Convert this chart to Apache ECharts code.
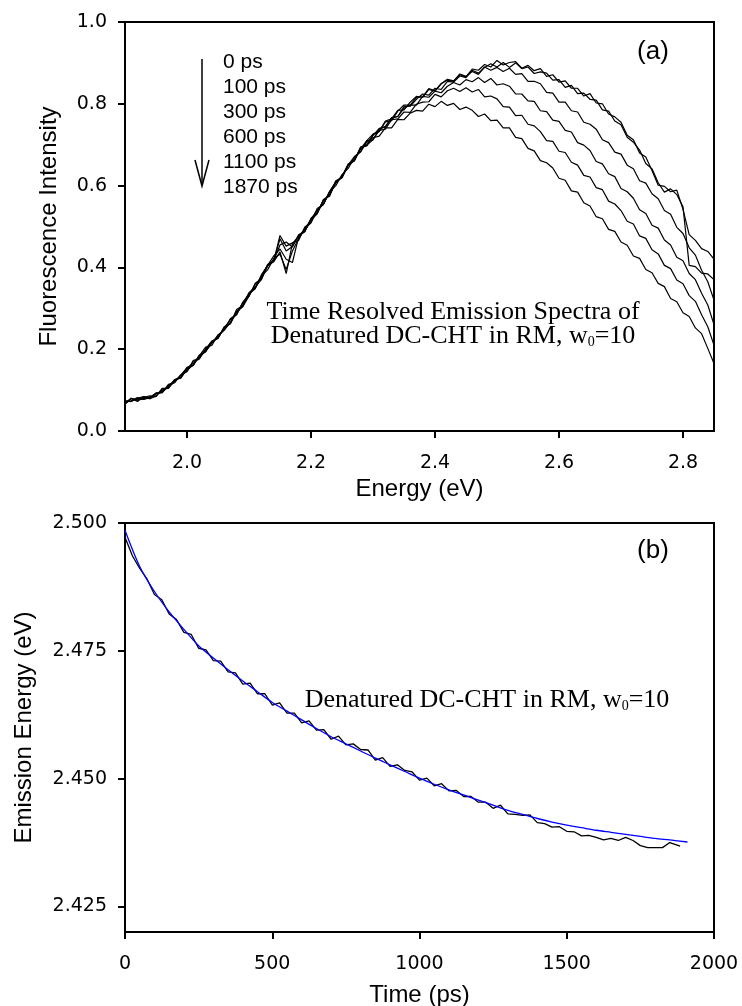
<!DOCTYPE html>
<html><head><meta charset="utf-8">
<script src="https://cdn.jsdelivr.net/npm/echarts@6/dist/echarts.min.js"></script>
<style>html,body{margin:0;padding:0;background:#fff}#c{width:742px;height:1006px}</style>
</head><body><div id="c"></div>
<script>
// ---------- Panel (a): time resolved emission spectra ----------
const energyEv = [1.90,1.91,1.92,1.93,1.94,1.95,1.96,1.97,1.98,1.99,
2.00,2.01,2.02,2.03,2.04,2.05,2.06,2.07,2.08,2.09,
2.10,2.11,2.12,2.13,2.14,2.15,2.16,2.17,2.18,2.19,
2.20,2.21,2.22,2.23,2.24,2.25,2.26,2.27,2.28,2.29,
2.30,2.31,2.32,2.33,2.34,2.35,2.36,2.37,2.38,2.39,
2.40,2.41,2.42,2.43,2.44,2.45,2.46,2.47,2.48,2.49,
2.50,2.51,2.52,2.53,2.54,2.55,2.56,2.57,2.58,2.59,
2.60,2.61,2.62,2.63,2.64,2.65,2.66,2.67,2.68,2.69,
2.70,2.71,2.72,2.73,2.74,2.75,2.76,2.77,2.78,2.79,
2.80,2.81,2.82,2.83,2.84,2.85];

const spec0ps = [0.073,0.074,0.082,0.077,0.082,0.093,0.094,0.114,0.118,0.137,
0.145,0.172,0.178,0.200,0.220,0.226,0.253,0.262,0.297,0.307,
0.337,0.348,0.381,0.405,0.416,0.478,0.452,0.460,0.466,0.499,
0.510,0.544,0.554,0.585,0.610,0.619,0.651,0.662,0.694,0.699,
0.725,0.732,0.758,0.763,0.784,0.785,0.804,0.818,0.816,0.835,
0.831,0.849,0.860,0.856,0.871,0.866,0.885,0.882,0.896,0.890,
0.906,0.895,0.901,0.903,0.887,0.894,0.881,0.886,0.867,0.871,
0.853,0.856,0.838,0.838,0.819,0.825,0.802,0.800,0.775,0.768,
0.755,0.723,0.712,0.680,0.670,0.637,0.601,0.598,0.585,0.589,
0.542,0.480,0.466,0.446,0.439,0.420];

const spec100ps = [0.068,0.080,0.075,0.082,0.086,0.084,0.104,0.105,0.125,0.132,
0.156,0.161,0.184,0.205,0.209,0.235,0.247,0.275,0.285,0.315,
0.329,0.361,0.372,0.407,0.417,0.470,0.440,0.451,0.478,0.487,
0.520,0.533,0.565,0.577,0.608,0.623,0.653,0.661,0.690,0.710,
0.712,0.738,0.745,0.766,0.769,0.793,0.794,0.811,0.824,0.821,
0.838,0.835,0.855,0.853,0.868,0.864,0.882,0.875,0.889,0.898,
0.890,0.901,0.889,0.900,0.886,0.890,0.874,0.878,0.875,0.858,
0.859,0.840,0.845,0.825,0.826,0.811,0.809,0.785,0.782,0.758,
0.749,0.718,0.706,0.687,0.654,0.641,0.607,0.584,0.592,0.578,
0.548,0.405,0.402,0.386,0.384,0.370];

const spec300ps = [0.074,0.072,0.080,0.084,0.079,0.092,0.094,0.110,0.124,0.130,
0.152,0.168,0.176,0.200,0.218,0.228,0.252,0.272,0.284,0.314,
0.336,0.350,0.381,0.404,0.414,0.438,0.385,0.458,0.476,0.488,
0.518,0.540,0.554,0.586,0.608,0.620,0.651,0.671,0.682,0.710,
0.726,0.733,0.756,0.759,0.782,0.797,0.797,0.816,0.817,0.837,
0.832,0.849,0.858,0.855,0.873,0.867,0.879,0.872,0.890,0.882,
0.889,0.879,0.887,0.872,0.874,0.855,0.855,0.849,0.828,0.826,
0.804,0.804,0.783,0.780,0.755,0.750,0.738,0.712,0.705,0.682,
0.677,0.650,0.641,0.612,0.606,0.580,0.568,0.539,0.530,0.498,
0.483,0.448,0.430,0.393,0.365,0.320];

const spec600ps = [0.066,0.079,0.076,0.078,0.083,0.086,0.100,0.106,0.122,0.136,
0.147,0.163,0.184,0.195,0.216,0.234,0.246,0.266,0.292,0.307,
0.338,0.352,0.370,0.405,0.428,0.445,0.420,0.412,0.474,0.495,
0.516,0.531,0.566,0.574,0.612,0.620,0.650,0.661,0.694,0.697,
0.722,0.740,0.743,0.765,0.769,0.789,0.797,0.797,0.818,0.816,
0.831,0.827,0.843,0.852,0.846,0.859,0.854,0.864,0.852,0.862,
0.846,0.849,0.843,0.824,0.824,0.807,0.806,0.783,0.781,0.760,
0.757,0.735,0.731,0.705,0.699,0.686,0.659,0.653,0.629,0.622,
0.593,0.585,0.569,0.541,0.532,0.503,0.496,0.467,0.455,0.425,
0.416,0.385,0.370,0.337,0.308,0.260];

const spec1100ps = [0.071,0.073,0.079,0.079,0.080,0.091,0.097,0.109,0.119,0.137,
0.154,0.160,0.186,0.194,0.219,0.227,0.255,0.263,0.293,0.304,
0.330,0.359,0.373,0.403,0.417,0.455,0.462,0.450,0.480,0.489,
0.517,0.532,0.563,0.577,0.607,0.621,0.650,0.662,0.691,0.699,
0.712,0.735,0.738,0.761,0.763,0.780,0.779,0.799,0.804,0.805,
0.823,0.817,0.832,0.838,0.830,0.839,0.829,0.835,0.817,0.819,
0.812,0.793,0.792,0.771,0.772,0.750,0.746,0.732,0.710,0.708,
0.684,0.681,0.657,0.650,0.625,0.621,0.595,0.590,0.562,0.555,
0.539,0.513,0.506,0.477,0.471,0.443,0.433,0.405,0.397,0.369,
0.360,0.331,0.317,0.284,0.255,0.210];

const spec1870ps = [0.066,0.080,0.072,0.084,0.079,0.085,0.103,0.104,0.126,0.129,
0.151,0.161,0.183,0.194,0.215,0.229,0.251,0.264,0.290,0.305,
0.334,0.349,0.379,0.394,0.422,0.432,0.395,0.440,0.470,0.494,
0.509,0.539,0.555,0.584,0.600,0.627,0.642,0.669,0.683,0.706,
0.717,0.721,0.741,0.741,0.762,0.761,0.777,0.784,0.782,0.799,
0.793,0.806,0.796,0.801,0.786,0.792,0.784,0.769,0.775,0.759,
0.760,0.741,0.741,0.718,0.715,0.691,0.685,0.661,0.656,0.643,
0.618,0.613,0.587,0.584,0.558,0.550,0.524,0.519,0.493,0.488,
0.462,0.454,0.428,0.422,0.395,0.387,0.361,0.353,0.324,0.316,
0.289,0.280,0.252,0.238,0.202,0.165];

const legendLabels = ['0 ps','100 ps','300 ps','600 ps','1100 ps','1870 ps'];
const energyTicks = [2.0, 2.2, 2.4, 2.6, 2.8];
const intensityTicks = [0.0, 0.2, 0.4, 0.6, 0.8, 1.0];

// ---------- Panel (b): emission energy vs time ----------
const timePs = [0,25,50,75,100,125,150,175,200,225,250,275,300,325,350,375,400,425,450,475,
500,525,550,575,600,625,650,675,700,725,750,775,800,825,850,875,900,925,950,975,
1000,1025,1050,1075,1100,1125,1150,1175,1200,1225,1250,1275,1300,1325,1350,1375,1400,1425,1450,1475,
1500,1525,1550,1575,1600,1625,1650,1675,1700,1725,1750,1775,1800,1825,1850,1875,1885];

const emissionEv = [2.4972,2.4936,2.4911,2.4890,2.4860,2.4850,2.4822,2.4811,2.4786,2.4782,
2.4755,2.4752,2.4731,2.4730,2.4709,2.4707,2.4685,2.4687,2.4666,2.4666,
2.4644,2.4648,2.4628,2.4628,2.4609,2.4613,2.4595,2.4596,2.4577,2.4583,
2.4566,2.4568,2.4557,2.4556,2.4536,2.4541,2.4524,2.4527,2.4516,2.4513,
2.4497,2.4501,2.4486,2.4490,2.4476,2.4477,2.4465,2.4465,2.4454,2.4454,
2.4442,2.4448,2.4431,2.4430,2.4428,2.4429,2.4414,2.4412,2.4405,2.4406,
2.4397,2.4396,2.4388,2.4389,2.4385,2.4380,2.4383,2.4379,2.4385,2.4379,
2.4369,2.4365,2.4365,2.4365,2.4375,2.4370,2.4368];

const fitTimePs = [0,50,100,150,200,250,300,350,400,450,500,550,600,650,700,750,800,850,900,950,
1000,1050,1100,1150,1200,1250,1300,1350,1400,1450,1500,1550,1600,1650,1700,1750,1800,1850,1910];
const fitEv = [2.4986,2.4915,2.4866,2.4826,2.4792,2.4760,2.4736,2.4713,2.4691,2.4670,
2.4649,2.4632,2.4615,2.4598,2.4582,2.4568,2.4554,2.4540,2.4527,2.4514,
2.4501,2.4489,2.4478,2.4468,2.4458,2.4448,2.4438,2.4430,2.4422,2.4415,
2.4409,2.4404,2.4399,2.4395,2.4391,2.4387,2.4383,2.4380,2.4376];

const timeTicks = [0, 500, 1000, 1500, 2000];
const emissionTicks = [2.425, 2.450, 2.475, 2.500];

// ---------- build ----------
const SANS = '"Liberation Sans", Arial, sans-serif';
const TICKF = '"DejaVu Sans", sans-serif';
const SERIF = '"Liberation Serif", "Times New Roman", serif';
const pair = (xs, ys) => xs.map((x, i) => [x, ys[i]]);

function axisBase(extra) {
  return Object.assign({
    type: 'value',
    axisLine: { show: true, onZero: false, lineStyle: { color: '#000', width: 2 } },
    splitLine: { show: false },
    nameLocation: 'middle',
    nameTextStyle: { color: '#000', fontFamily: SANS, fontSize: 24 }
  }, extra);
}
function ticks(vals) {
  return { show: true, inside: false, length: 7, customValues: vals, lineStyle: { color: '#000', width: 2 } };
}
function labels(vals, fmt, margin) {
  return { customValues: vals, formatter: fmt, color: '#000', fontFamily: TICKF, fontSize: 19, margin: margin };
}

const specSeries = [spec0ps, spec100ps, spec300ps, spec600ps, spec1100ps, spec1870ps].map(s => ({
  type: 'line', xAxisIndex: 0, yAxisIndex: 0, data: pair(energyEv, s),
  showSymbol: false, symbol: 'none', silent: true,
  lineStyle: { color: '#000', width: 1.2 }
}));

const chart = echarts.init(document.getElementById('c'), null, { renderer: 'canvas' });

const txt = (x, y, text, font, size, align) => ({
  type: 'text', x: x, y: y,
  style: { text: text, fontFamily: font, fontSize: size, fill: '#000', textAlign: align || 'center', verticalAlign: 'middle', textVerticalAlign: 'middle' }
});
const richLabel = (x, y) => ({
  type: 'text', x: x, y: y,
  style: {
    text: '{n|Denatured DC-CHT in RM, w}{s|0}{n|=10}', fill: '#000', textAlign: 'center', verticalAlign: 'middle', textVerticalAlign: 'middle',
    rich: { n: { fontFamily: SERIF, fontSize: 26, fill: '#000' }, s: { fontFamily: SERIF, fontSize: 14, fill: '#000', verticalAlign: 'bottom' } }
  }
});

const graphics = [
  { type: 'line', shape: { x1: 202, y1: 59, x2: 202, y2: 185 }, style: { stroke: '#000', lineWidth: 1.5 } },
  { type: 'polyline', shape: { points: [[195, 160], [202, 186], [209, 160]] }, style: { stroke: '#000', lineWidth: 1.5, fill: null } },
  txt(653, 52, '(a)', SANS, 26),
  txt(653, 551, '(b)', SANS, 26),
  txt(453, 312, 'Time Resolved Emission Spectra of', SERIF, 26),
  richLabel(453, 336),
  richLabel(487, 700)
];
legendLabels.forEach((t, i) => graphics.push(txt(223, 62 + i * 25, t, SANS, 21, 'left')));

chart.setOption({
  animation: false,
  backgroundColor: '#fff',
  grid: [
    { left: 125, top: 22, width: 589, height: 409, show: true, borderColor: '#000', borderWidth: 2, backgroundColor: 'transparent', containLabel: false, outerBoundsMode: 'none' },
    { left: 125, top: 523, width: 589, height: 409, show: true, borderColor: '#000', borderWidth: 2, backgroundColor: 'transparent', containLabel: false, outerBoundsMode: 'none' }
  ],
  xAxis: [
    axisBase({ gridIndex: 0, min: 1.9, max: 2.85, name: 'Energy (eV)', nameGap: 46,
      axisTick: ticks(energyTicks), axisLabel: labels(energyTicks, v => Number(v).toFixed(1), 23) }),
    axisBase({ gridIndex: 1, min: 0, max: 2000, name: 'Time (ps)', nameGap: 51,
      axisTick: ticks(timeTicks), axisLabel: labels(timeTicks, v => String(v), 23) })
  ],
  yAxis: [
    axisBase({ gridIndex: 0, min: 0, max: 1, name: 'Fluorescence Intensity', nameGap: 64,
      axisTick: ticks(intensityTicks), axisLabel: labels(intensityTicks, v => Number(v).toFixed(1), 18) }),
    axisBase({ gridIndex: 1, min: 2.42, max: 2.5, name: 'Emission Energy (eV)', nameGap: 89,
      axisTick: ticks(emissionTicks), axisLabel: labels(emissionTicks, v => Number(v).toFixed(3), 18) })
  ],
  series: specSeries.concat([
    { type: 'line', xAxisIndex: 1, yAxisIndex: 1, data: pair(timePs, emissionEv), showSymbol: false, symbol: 'none', silent: true,
      lineStyle: { color: '#000', width: 1.3 } },
    { type: 'line', xAxisIndex: 1, yAxisIndex: 1, data: pair(fitTimePs, fitEv), showSymbol: false, symbol: 'none', silent: true, smooth: 0.3,
      lineStyle: { color: '#0000ff', width: 1.3 } }
  ]),
  graphic: graphics
});
</script>
</body></html>
